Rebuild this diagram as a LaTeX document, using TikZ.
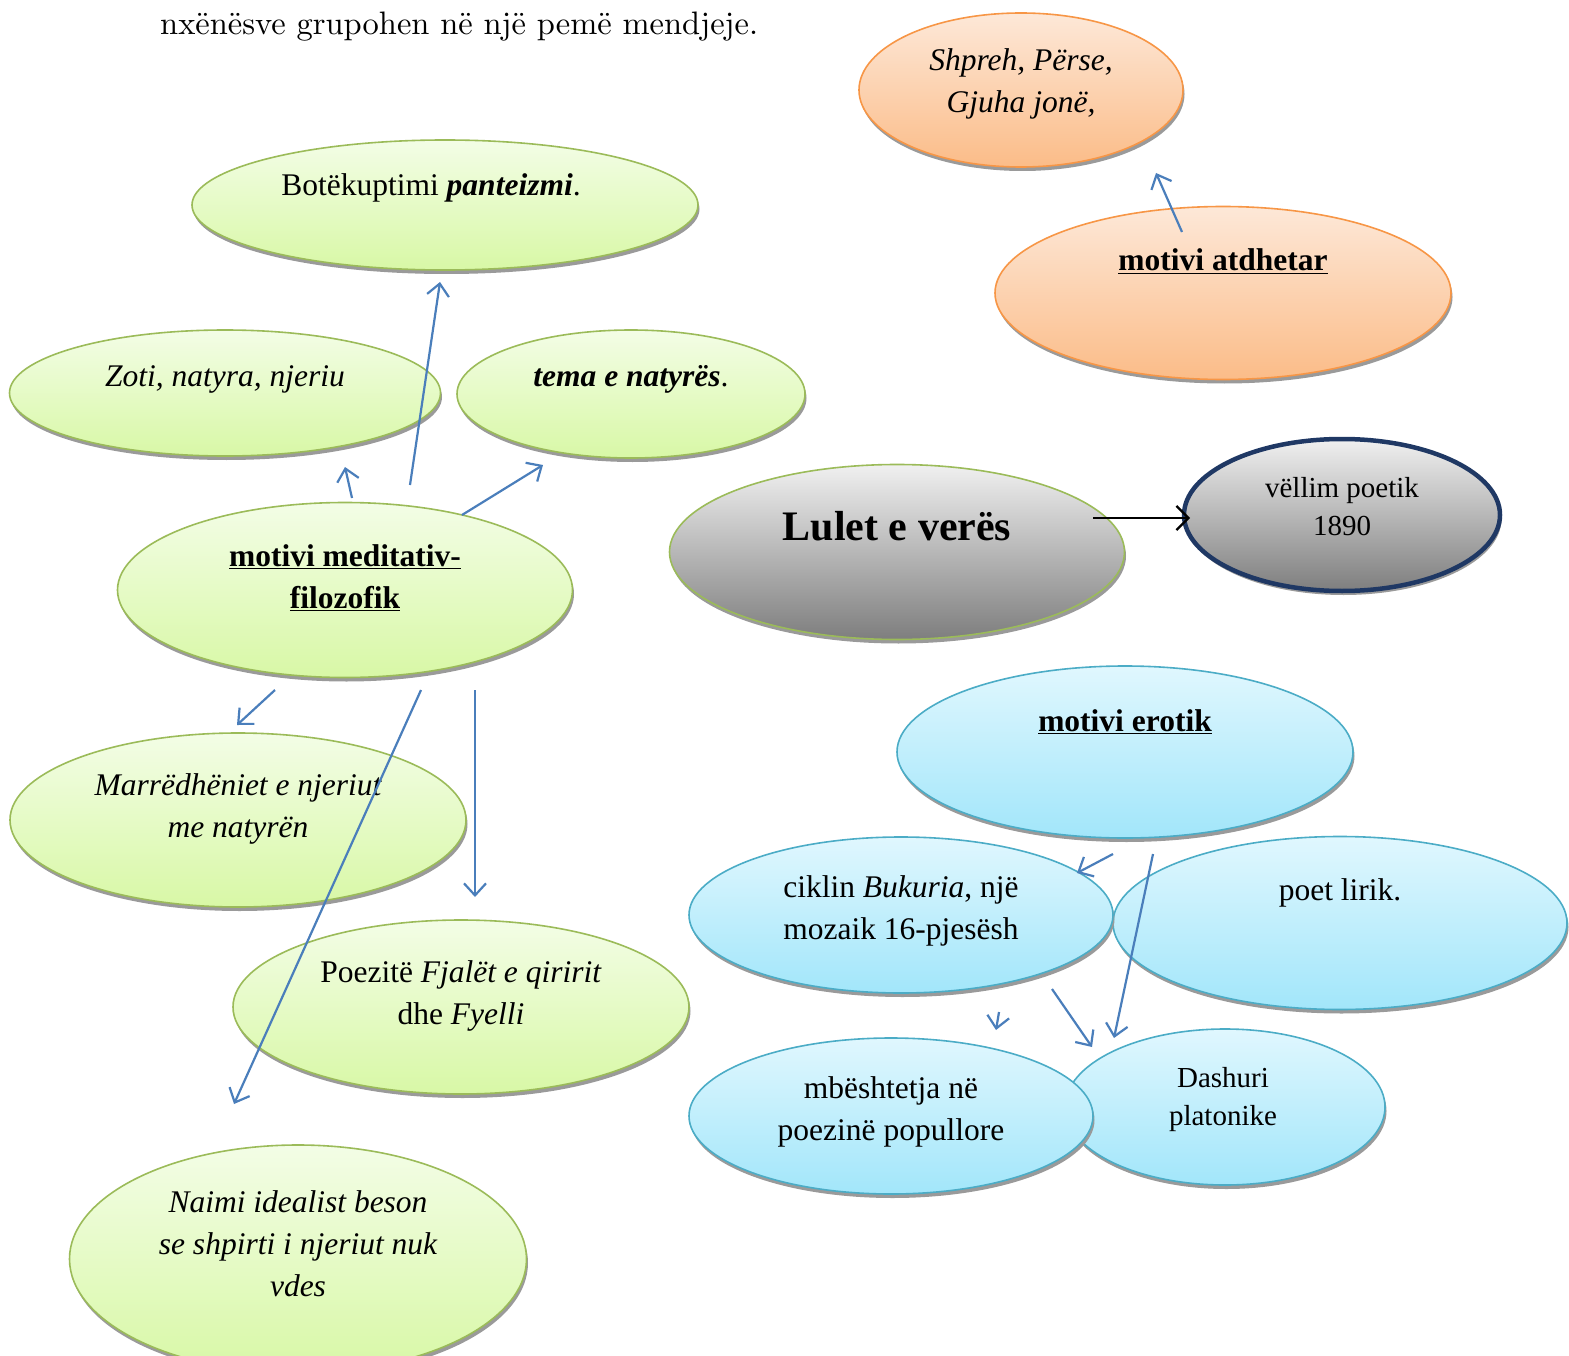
\documentclass[tikz,border=0pt]{standalone}
\usepackage{fontspec}
\setmainfont{Liberation Serif}
\newfontfamily\lmfont{lmroman10-regular.otf}
\usetikzlibrary{arrows.meta,shapes.geometric,shadows}
\definecolor{grnB}{HTML}{9BBB59}
\definecolor{grnT}{HTML}{F3FDE6}
\definecolor{grnD}{HTML}{D8F8A6}
\definecolor{bluB}{HTML}{4BACC6}
\definecolor{bluT}{HTML}{E0F7FE}
\definecolor{bluD}{HTML}{A2E6FA}
\definecolor{orgB}{HTML}{F79646}
\definecolor{orgT}{HTML}{FDE8D8}
\definecolor{orgD}{HTML}{FBBC88}
\definecolor{gryT}{HTML}{F0F0F0}
\definecolor{gryD}{HTML}{7E7E7E}
\definecolor{navy}{HTML}{1F3864}
\definecolor{arr}{HTML}{4A7EBB}
\definecolor{shd}{HTML}{9A9A9A}
\tikzset{
  bub/.style={ellipse, inner sep=0pt, line width=1.6pt, shading=axis,
    drop shadow={fill=shd, opacity=1, shadow xshift=1.5pt, shadow yshift=-4pt}},
  gbub/.style={bub, draw=grnB, top color=grnT, bottom color=grnD},
  bbub/.style={bub, draw=bluB, top color=bluT, bottom color=bluD},
  obub/.style={bub, draw=orgB, top color=orgT, bottom color=orgD},
  graybub/.style={bub, top color=gryT, bottom color=gryD},
  txt/.style={anchor=base, align=center, inner sep=0pt, font=\fontsize{31.5}{42}\selectfont},
  conn/.style={draw=arr, line width=2.2pt, -{Straight Barb[length=12pt,width=22pt,line width=2.2pt]}},
}
\begin{document}
\begin{tikzpicture}[x=1pt,y=-1pt]
\useasboundingbox (0,0) rectangle (1569,1356);

% top line
\node[anchor=base west, inner sep=0pt, font=\lmfont\fontsize{32.5}{40}\selectfont] (topline) at (160,35) {nxënësve grupohen në një pemë mendjeje.};

% orange
\node[obub, minimum width=324pt, minimum height=154pt] (shpreh) at (1021,90) {};
\node[txt] (shprehT) at (1021,113) {\itshape Shpreh, Përse,\\\itshape Gjuha jonë,};
\node[obub, minimum width=456pt, minimum height=173pt] (atdh) at (1223,293) {};
\node[txt] (atdhT) at (1223,271) {\bfseries\underline{motivi atdhetar}};

% green
\node[gbub, minimum width=506pt, minimum height=130pt] (bote) at (445,205) {};
\node[txt] (boteT) at (431,196) {Botëkuptimi \textbf{\textit{panteizmi}}.};
\node[gbub, minimum width=431pt, minimum height=126pt] (zoti) at (225,393) {};
\node[txt] (zotiT) at (225,386) {\itshape Zoti, natyra, njeriu};
\node[gbub, minimum width=348pt, minimum height=128pt] (tema) at (631,394) {};
\node[txt] (temaT) at (631,386) {\textbf{\textit{tema e natyrës}}.};
\node[gbub, minimum width=455pt, minimum height=175pt] (medi) at (345,590) {};
\node[txt] (mediT) at (345,608) {\bfseries\underline{motivi meditativ-}\\\bfseries\underline{filozofik}};

% gray
\node[graybub, draw=grnB, minimum width=455pt, minimum height=175pt] (lulet) at (897,552) {};
\node[anchor=base, inner sep=0pt, font=\fontsize{42}{50}\selectfont\bfseries] (luletT) at (897,540) {Lulet e verës};
\node[graybub, draw=navy, line width=4.5pt, minimum width=316pt, minimum height=152pt] (vellim) at (1342,515) {};
\node[txt, font=\fontsize{29}{38}\selectfont] (vellimT) at (1342,535) {vëllim poetik\\1890};

% blue
\node[bbub, minimum width=456pt, minimum height=172pt] (erot) at (1125,752) {};
\node[txt] (erotT) at (1125,731) {\bfseries\underline{motivi erotik}};
\node[bbub, minimum width=454pt, minimum height=173pt] (lirik) at (1340,923) {};
\node[txt] (lirikT) at (1340,900) {poet lirik.};
\node[bbub, minimum width=424pt, minimum height=156pt] (cikl) at (901,915) {};
\node[txt] (ciklT) at (901,939) {ciklin \textit{Bukuria}, një\\mozaik 16-pjesësh};
\node[bbub, minimum width=320pt, minimum height=156pt] (dash) at (1225,1107) {};
\node[txt, font=\fontsize{29}{38}\selectfont] (dashT) at (1223,1125) {Dashuri\\platonike};
\node[bbub, minimum width=404pt, minimum height=156pt] (mbes) at (891,1116) {};
\node[txt] (mbesT) at (891,1140) {mbështetja në\\poezinë popullore};

% green lower
\node[gbub, minimum width=456pt, minimum height=174pt] (marr) at (238,820) {};
\node[txt] (marrT) at (238,837) {\itshape Marrëdhëniet e njeriut\\\itshape me natyrën};
\node[gbub, minimum width=456pt, minimum height=174pt] (poez) at (461,1007) {};
\node[txt] (poezT) at (461,1024) {Poezitë \textit{Fjalët e qiririt}\\dhe \textit{Fyelli}};
\node[gbub, minimum width=457pt, minimum height=228pt] (naimi) at (298,1259) {};
\node[txt] (naimiT) at (298,1296) {\itshape Naimi idealist beson\\\itshape se shpirti i njeriut nuk\\\itshape vdes};

% connector ends
\coordinate (a1s) at (1182,232); \coordinate (a1e) at (1156,173);
\coordinate (m1s) at (410,485);  \coordinate (m1e) at (440,282);
\coordinate (m2s) at (352,498);  \coordinate (m2e) at (345,467);
\coordinate (m3s) at (462,515);  \coordinate (m3e) at (543,465);
\coordinate (m4s) at (275,690);  \coordinate (m4e) at (237,725);
\coordinate (m5s) at (421,690);  \coordinate (m5e) at (234,1104);
\coordinate (m6s) at (475,690);  \coordinate (m6e) at (475,897);
\coordinate (ls) at (1093,518);  \coordinate (le) at (1190,518);
\coordinate (e1s) at (1113,854); \coordinate (e1e) at (1077,873);
\coordinate (e2s) at (1153,854); \coordinate (e2e) at (1114,1038);
\coordinate (e3s) at (1052,989); \coordinate (e3e) at (1092,1047);
\coordinate (e4s) at (999,1012); \coordinate (e4e) at (996,1030);

\draw[conn] (a1s) -- (a1e);
\draw[conn] (m1s) -- (m1e);
\draw[conn] (m2s) -- (m2e);
\draw[conn] (m3s) -- (m3e);
\draw[conn] (m4s) -- (m4e);
\draw[conn] (m5s) -- (m5e);
\draw[conn] (m6s) -- (m6e);
\draw[line width=2.2pt, -{Straight Barb[length=12pt,width=24pt,line width=2.2pt]}] (ls) -- (le);
\draw[conn] (e1s) -- (e1e);
\draw[conn] (e2s) -- (e2e);
\draw[conn] (e3s) -- (e3e);
\draw[conn] (e4s) -- (e4e);
\end{tikzpicture}
\end{document}
